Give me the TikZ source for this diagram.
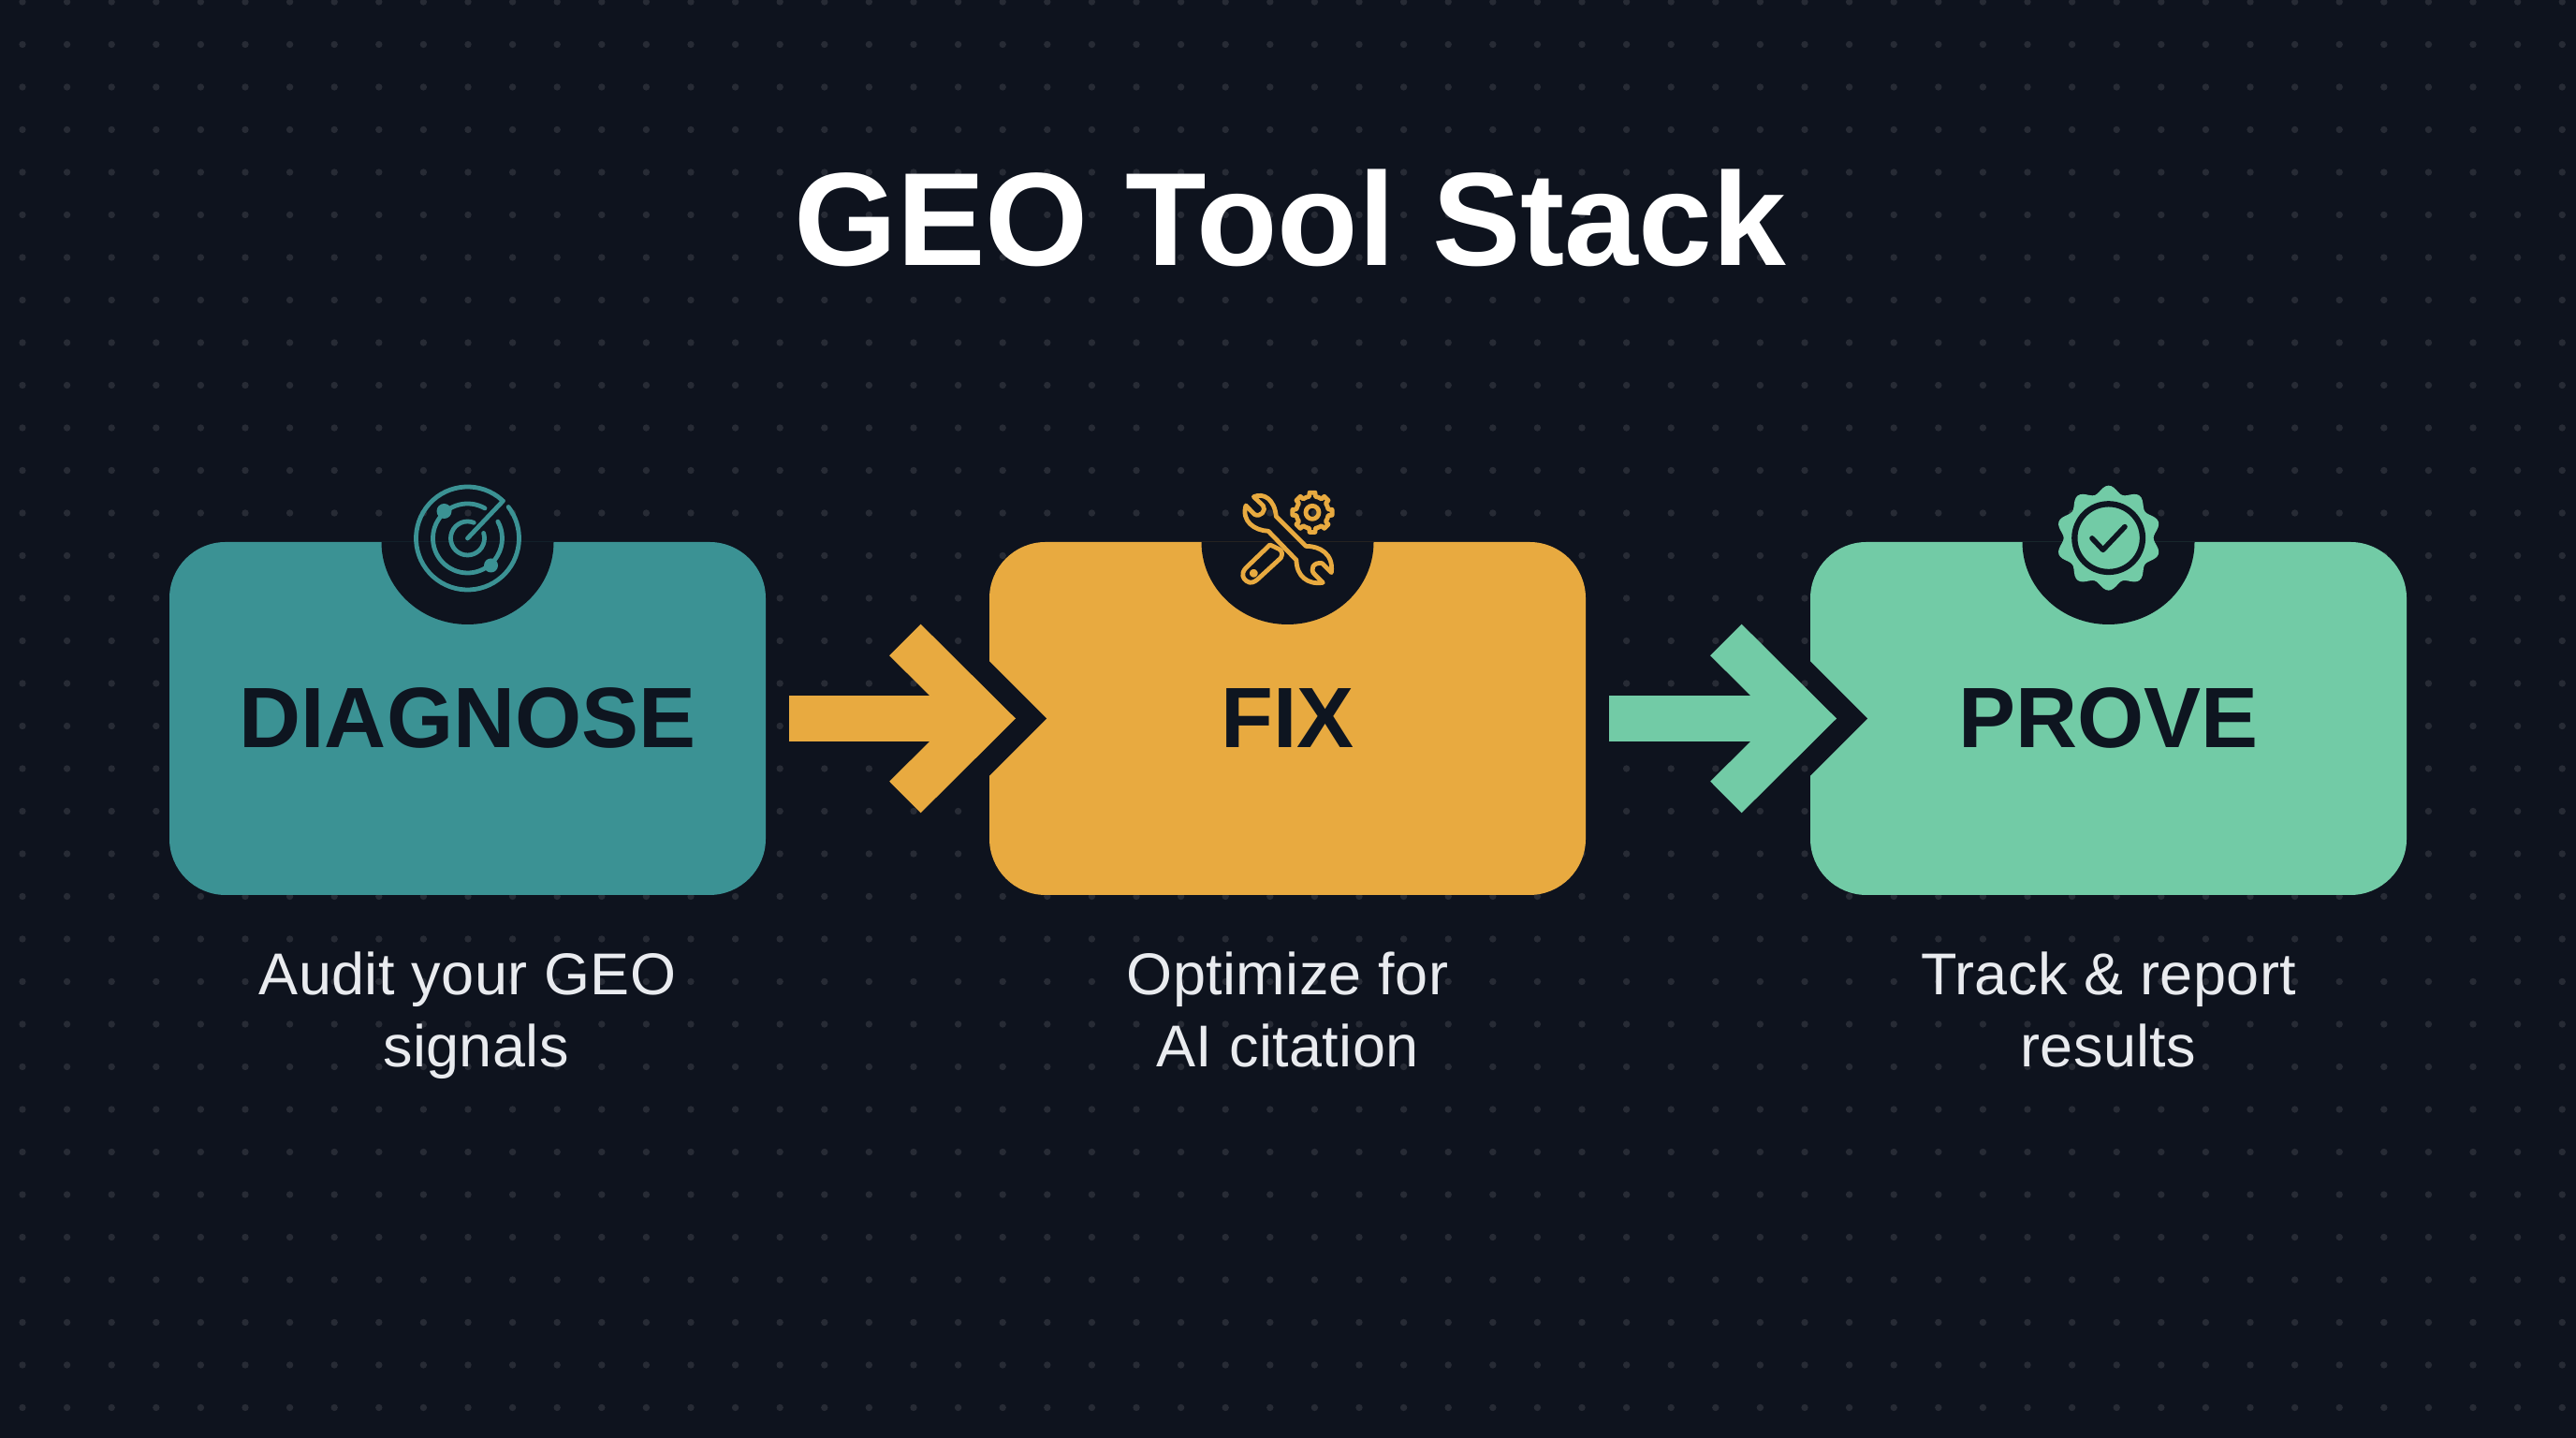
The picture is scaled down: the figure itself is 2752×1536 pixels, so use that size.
\documentclass[tikz,border=0pt]{standalone}
\usepackage{fontspec}
\setmainfont{Liberation Sans}
\usetikzlibrary{positioning, arrows.meta, calc}
\definecolor{nightbg}{HTML}{0E131E}
\definecolor{griddot}{HTML}{272B35}
\definecolor{tealcard}{HTML}{3B9294}
\definecolor{ambercard}{HTML}{E8AA40}
\definecolor{mintcard}{HTML}{72CBA6}
\definecolor{inkdark}{HTML}{0E1520}
\definecolor{captiongrey}{HTML}{E9EBEF}
\tikzset{
	stagecard/.style = {rectangle, rounded corners=60pt, minimum width=637pt, minimum height=377pt, inner sep=0pt, outer sep=0pt, text = inkdark, font = \bfseries\fontsize{91.5}{92}\selectfont},
	caption/.style = {text = captiongrey, align = center, font = \fontsize{63}{77}\selectfont\addfontfeature{LetterSpace=0.6}, inner sep=0pt},
	flowarrow/.style = {line width=49.5pt, -{Straight Barb[length=84.5pt, width=168pt, line width=47.4pt]}},
	iconline/.style = {line width=4.8pt, line cap=round, line join=round},
}
\begin{document}
\begin{tikzpicture}[x=1pt, y=1pt]
	\useasboundingbox (0,0) rectangle (2752,1536);
	\fill[nightbg] (0,0) rectangle (2752,1536);
	\foreach \i in {0,...,57}
		\foreach \j in {0,...,33}
			\fill[griddot] ({24+47.6*\i},{1534-45.5*\j}) circle (3.7);
	\node[text = white, font = \bfseries\fontsize{141.6}{142}\selectfont, inner sep=0pt] (title) at (1378,1303) {GEO Tool Stack};
	\node[stagecard, fill = tealcard] (diagnose) at (499.5,768.5) {DIAGNOSE};
	\node[stagecard, fill = ambercard, right = 239pt of diagnose] (fix) {FIX};
	\node[stagecard, fill = mintcard, right = 240pt of fix] (prove) {PROVE};
	\node[caption, below = 61pt of diagnose] (lab_diagnose) {Audit your GEO\\\hspace*{18pt}signals};
	\node[caption, below = 61pt of fix] (lab_fix) {Optimize for\\AI citation};
	\node[caption, below = 61pt of prove] (lab_prove) {Track \& report\\results};
	\foreach \card in {diagnose, fix, prove}
		\fill[nightbg] ([xshift=-92pt]\card.north) arc[start angle=180, end angle=360, x radius=92pt, y radius=88pt] -- cycle;
	\foreach \card in {fix, prove}
		\fill[nightbg] ([yshift=61pt]\card.west) -- ([xshift=61pt]\card.west) -- ([yshift=-61pt]\card.west) -- cycle;
	\draw[flowarrow, draw = ambercard] ([xshift=25pt]diagnose.east) -- ([xshift=28pt]fix.west);
	\draw[flowarrow, draw = mintcard] ([xshift=25pt]fix.east) -- ([xshift=28pt]prove.west);
	\begin{scope}[shift={(499.5,961)}, draw = tealcard, fill = tealcard]
		\draw[iconline] (48:55) arc[start angle=48, end angle=397.5, radius=55];
		\draw[iconline] (60:37) arc[start angle=60, end angle=389, radius=37];
		\draw[iconline] (68:18) arc[start angle=68, end angle=378, radius=18];
		\draw[iconline] (0,0) -- (38,40);
		\fill (-25,29) circle (8);
		\fill (25,-29) circle (7.5);
	\end{scope}
	\begin{scope}[shift={(1250,1046)}, x=0.3333pt, y=-0.3333pt, draw = ambercard]
		\draw[iconline] (268,122) .. controls (300,108) and (335,130) .. (340,185) -- (435,280) .. controls (480,280) and (525,305) .. (517,365) -- (487,335) .. controls (460,330) and (445,355) .. (465,372) -- (490,397) .. controls (440,405) and (405,375) .. (405,325) -- (315,232) .. controls (270,230) and (228,200) .. (243,150) -- (270,178) .. controls (290,190) and (310,165) .. (298,150) -- cycle;
		\draw[iconline] (320,276) -- (243,350) .. controls (225,370) and (235,385) .. (245,392) .. controls (258,402) and (270,395) .. (280,387) -- (355,318) .. controls (362,305) and (358,295) .. (350,290) .. controls (340,285) and (330,280) .. (320,276) -- cycle;
		\draw[iconline] (268,367) circle (6);
		\draw[iconline] (456,172) circle (21);
		\draw[iconline, shift={(456,172)}] (-11:52) \foreach \a in {0,45,...,315} { -- ({\a-11}:52) -- ({\a-8}:64) -- ({\a+8}:64) -- ({\a+11}:52) arc[start angle={\a+11}, end angle={\a+34}, radius=52] } -- cycle;
	\end{scope}
	\begin{scope}[shift={(2120,1046)}, x=0.3333pt, y=-0.3333pt]
		\fill[mintcard, shift={(398,254)}] plot[smooth cycle, samples=120, domain=0:357] (\x:{156+12*cos(10*(\x-90))});
		\draw[inkdark, line width=6.3pt] (398,254) circle (109);
		\draw[inkdark, line width=5.6pt, line cap=round, line join=round] (345,255) -- (380,292) -- (450,218);
	\end{scope}
\end{tikzpicture}
\end{document}
